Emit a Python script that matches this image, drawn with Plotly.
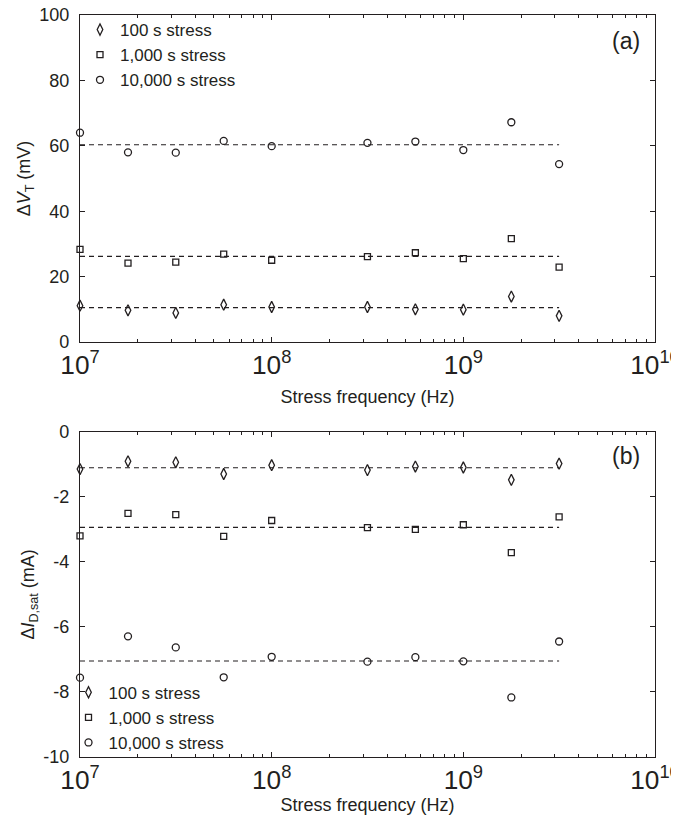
import plotly.graph_objects as go

freq = [1e7, 1.78e7, 3.16e7, 5.62e7, 1e8, 3.16e8, 5.62e8, 1e9, 1.78e9, 3.16e9]

vt_100 = [11.1, 9.7, 8.9, 11.4, 10.7, 10.7, 10.0, 9.9, 13.9, 8.0]
vt_1000 = [28.3, 24.1, 24.4, 26.9, 25.0, 26.1, 27.3, 25.5, 31.6, 22.9]
vt_10000 = [64.0, 58.0, 57.9, 61.5, 59.9, 60.9, 61.3, 58.7, 67.2, 54.4]
vt_means = [10.5, 26.2, 60.3]

id_100 = [-1.15, -0.91, -0.94, -1.30, -1.03, -1.18, -1.07, -1.10, -1.48, -0.98]
id_1000 = [-3.20, -2.51, -2.55, -3.22, -2.73, -2.95, -3.00, -2.86, -3.72, -2.62]
id_10000 = [-7.56, -6.29, -6.63, -7.55, -6.92, -7.07, -6.93, -7.06, -8.17, -6.45]
id_means = [-1.11, -2.94, -7.05]

series_names = ["100 s stress", "1,000 s stress", "10,000 s stress"]
symbols = ["diamond-tall-open", "square-open", "circle-open"]
sizes = [8, 6, 7]

vt_ticks = [0, 20, 40, 60, 80, 100]
id_ticks = [0, -2, -4, -6, -8, -10]
id_ticktext = ["0", "-2", "-4", "-6", "-8", "-10"]

INK = "#231f20"
FONT = "Liberation Sans, Arial, Helvetica, sans-serif"

fig = go.Figure()

# mean dashed lines
for m in vt_means:
    fig.add_trace(go.Scatter(x=[freq[0], freq[-1]], y=[m, m], mode="lines",
                             line=dict(color=INK, width=1.1, dash="5px,4px"),
                             showlegend=False, hoverinfo="skip", xaxis="x", yaxis="y"))
for m in id_means:
    fig.add_trace(go.Scatter(x=[freq[0], freq[-1]], y=[m, m], mode="lines",
                             line=dict(color=INK, width=1.1, dash="5px,4px"),
                             showlegend=False, hoverinfo="skip", xaxis="x2", yaxis="y2"))

for name, sym, sz, vals in zip(series_names, symbols, sizes, [vt_100, vt_1000, vt_10000]):
    fig.add_trace(go.Scatter(x=freq, y=vals, mode="markers", name=name,
                             marker=dict(symbol=sym, size=sz, color=INK, line=dict(width=1.3, color=INK)),
                             xaxis="x", yaxis="y", legend="legend", cliponaxis=False))
for name, sym, sz, vals in zip(series_names, symbols, sizes, [id_100, id_1000, id_10000]):
    fig.add_trace(go.Scatter(x=freq, y=vals, mode="markers", name=name,
                             marker=dict(symbol=sym, size=sz, color=INK, line=dict(width=1.3, color=INK)),
                             xaxis="x2", yaxis="y2", legend="legend2", cliponaxis=False))

xcommon = dict(type="log", range=[7, 10], dtick=1, exponentformat="power", showexponent="all",
               ticks="inside", ticklen=5, tickcolor=INK, mirror="ticks", showline=True,
               linecolor=INK, linewidth=1.2, showgrid=False, zeroline=False, automargin=False,
               ticklabeloverflow="allow",
               minor=dict(ticks="inside", ticklen=3, dtick="D1", tickcolor=INK, showgrid=False),
               tickfont=dict(size=21, color=INK, family=FONT))
ycommon = dict(ticks="inside", ticklen=5, tickcolor=INK, mirror="ticks", showline=True,
               linecolor=INK, linewidth=1.2, showgrid=False, zeroline=False, automargin=False,
               ticklabeloverflow="allow",
               tickfont=dict(size=18, color=INK, family=FONT), ticklabelstandoff=6)

fig.update_layout(
    width=671, height=812,
    margin=dict(l=72, r=24, t=7, b=63, autoexpand=False),
    paper_bgcolor="white", plot_bgcolor="white",
    font=dict(family=FONT, color=INK),
    xaxis=dict(**xcommon, domain=[0, 1], anchor="y",
               title=dict(text="Stress frequency (Hz)", font=dict(size=18, color=INK, family=FONT), standoff=11)),
    xaxis2=dict(**xcommon, domain=[0, 1], anchor="y2",
                title=dict(text="Stress frequency (Hz)", font=dict(size=18, color=INK, family=FONT), standoff=4)),
    yaxis=dict(**ycommon, domain=[0.5593, 1], range=[0, 100], tickvals=vt_ticks,
               title=dict(text="Δ<i>V</i><sub>T</sub> (mV)", font=dict(size=18, color=INK, family=FONT), standoff=3)),
    yaxis2=dict(**ycommon, domain=[0, 0.4384], range=[-10, 0], tickvals=id_ticks, ticktext=id_ticktext,
                title=dict(text="Δ<i>I</i><sub>D,sat</sub> (mA)", font=dict(size=18, color=INK, family=FONT), standoff=3)),
    legend=dict(x=0.0, y=1.004, xanchor="left", yanchor="top", bgcolor="rgba(0,0,0,0)",
                font=dict(size=17, color=INK, family=FONT), itemwidth=30, tracegroupgap=0),
    legend2=dict(x=-0.02, y=-0.005, xanchor="left", yanchor="bottom", bgcolor="rgba(0,0,0,0)",
                 font=dict(size=17, color=INK, family=FONT), itemwidth=30, tracegroupgap=0),
    annotations=[
        dict(text="(a)", xref="paper", yref="paper", x=0.95, y=0.985, xanchor="center", yanchor="top",
             showarrow=False, font=dict(size=23, color=INK, family=FONT)),
        dict(text="(b)", xref="paper", yref="paper", x=0.95, y=0.4255, xanchor="center", yanchor="top",
             showarrow=False, font=dict(size=23, color=INK, family=FONT)),
    ],
)

fig.write_html("out.html")
